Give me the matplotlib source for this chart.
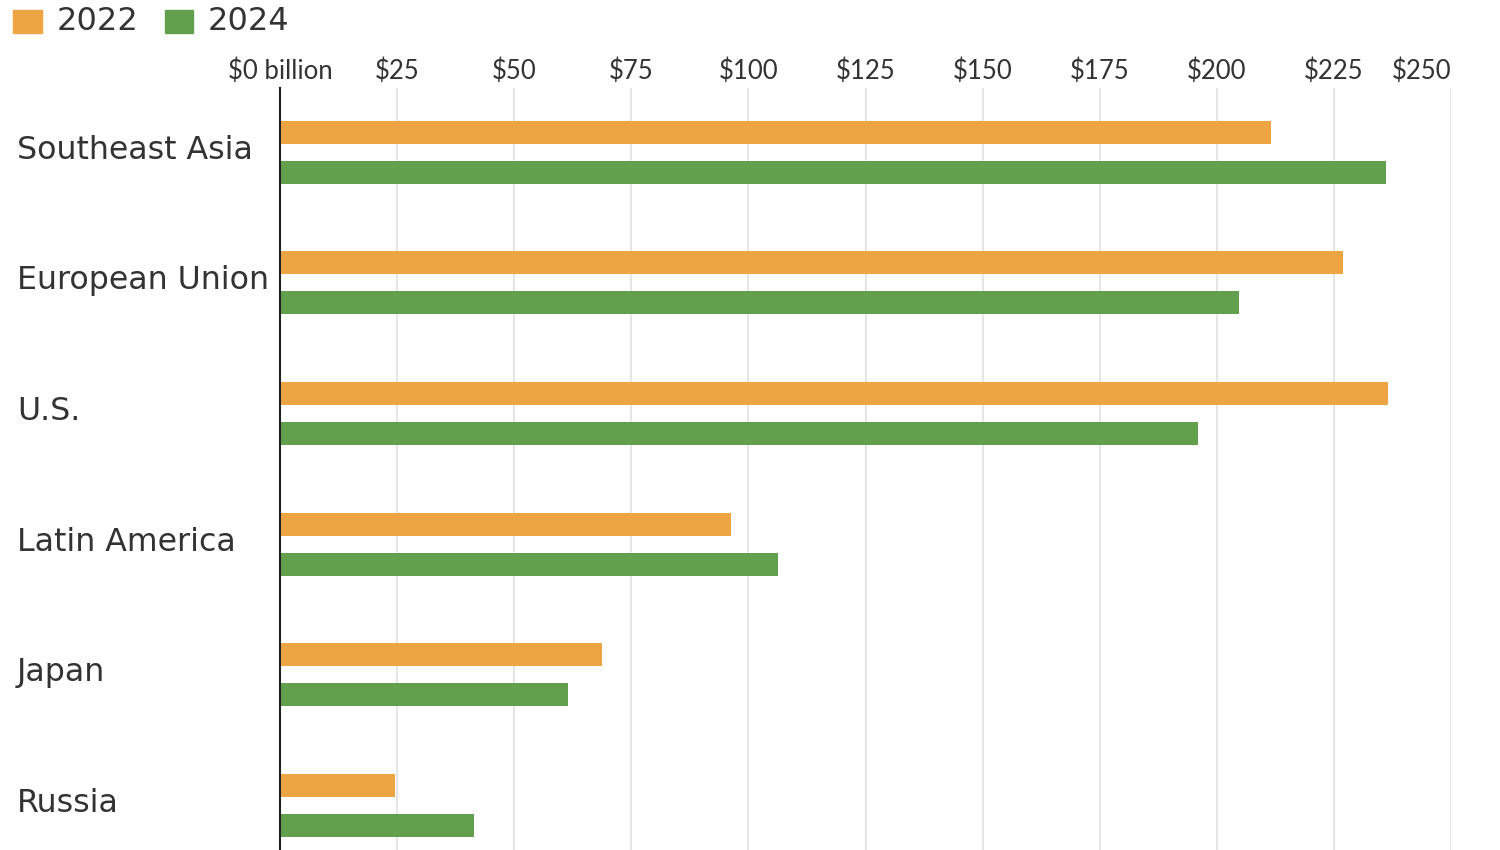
import matplotlib
matplotlib.use("Agg")
import matplotlib.pyplot as plt
import numpy as np
from matplotlib.patches import Rectangle

categories = ["Southeast Asia", "European Union", "U.S.", "Latin America", "Japan", "Russia"]
values_2022 = [211.5, 226.9, 236.5, 96.2, 68.8, 24.6]
values_2024 = [236.1, 204.7, 195.9, 106.4, 61.5, 41.5]
tick_values = [0, 25, 50, 75, 100, 125, 150, 175, 200, 225, 250]
tick_labels = ["$0 billion", "$25", "$50", "$75", "$100", "$125", "$150", "$175", "$200", "$225", "$250"]

c2022 = "#EDA443"
c2024 = "#62A04E"
txt = "#333333"

fig = plt.figure(figsize=(15, 8.5), dpi=100)
W, H = 1500, 850
ax_left, ax_right = 280 / W, 1451 / W
ax_top, ax_bot = 1 - 88 / H, 0.0
ax = fig.add_axes([ax_left, ax_bot, ax_right - ax_left, ax_top - ax_bot])

y = np.arange(len(categories))
bh = 0.176
off = 0.153
ax.barh(y - off, values_2022, height=bh, color=c2022, zorder=3)
ax.barh(y + off, values_2024, height=bh, color=c2024, zorder=3)

ax.set_xlim(0, 250)
ax.set_ylim(5.34, -0.49)

ax.xaxis.tick_top()
ax.set_xticks(tick_values)
ax.set_xticklabels(tick_labels, fontsize=18.5, color=txt, family="Lato")
ax.tick_params(axis="x", length=0, pad=3)
ax.get_xticklabels()[-1].set_ha("right")
ax.set_yticks([])
ax.grid(axis="x", color="#E3E3E3", linewidth=1.3, zorder=0)
for s in ["top", "right", "bottom"]:
    ax.spines[s].set_visible(False)
ax.spines["left"].set_color("#222222")
ax.spines["left"].set_linewidth(1.5)
ax.spines["left"].set_zorder(4)

# category labels
trans = matplotlib.transforms.blended_transform_factory(fig.transFigure, ax.transData)
for i, cat in enumerate(categories):
    ax.text(17 / W, y[i] - 0.015, cat, transform=trans, fontsize=22.8,
            color=txt, family="DejaVu Sans", va="center", ha="left")

# legend
fig.patches.append(Rectangle((13 / W, 1 - 33 / H), 29 / W, 23 / H, transform=fig.transFigure,
                             color=c2022, figure=fig))
fig.text(57 / W, 1 - 22 / H, "2022", fontsize=23, color=txt, va="center", ha="left",
         family="DejaVu Sans")
fig.patches.append(Rectangle((165 / W, 1 - 33 / H), 28 / W, 23 / H, transform=fig.transFigure,
                             color=c2024, figure=fig))
fig.text(208 / W, 1 - 22 / H, "2024", fontsize=23, color=txt, va="center", ha="left",
         family="DejaVu Sans")

fig.savefig("out.png", dpi=100)
